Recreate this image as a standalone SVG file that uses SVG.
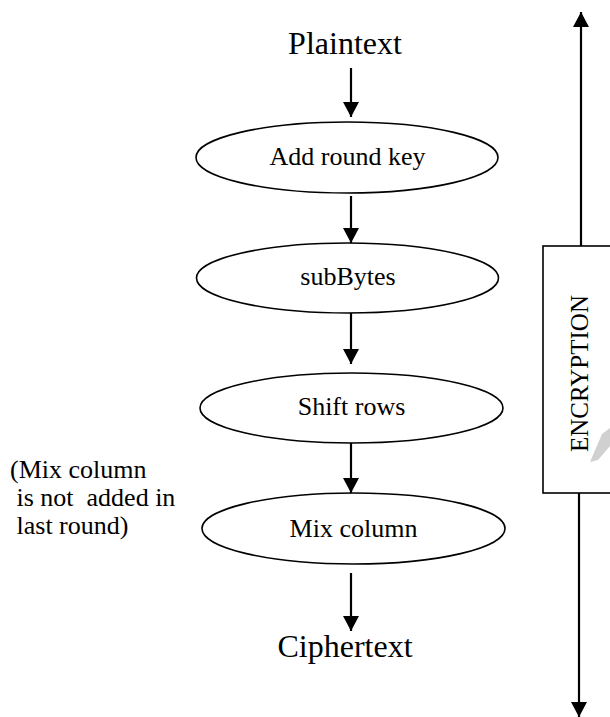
<svg xmlns="http://www.w3.org/2000/svg" width="610" height="717" viewBox="0 0 610 717">
<style>
text{font-family:"Liberation Serif","Times New Roman",serif;fill:#000}
.big{font-size:32px}
.lbl{font-size:26px}
.node ellipse{fill:#fff;stroke:#000;stroke-width:1.6}
.conn line{stroke:#000;stroke-width:2.2;fill:none}
.box{fill:#fff;stroke:#000;stroke-width:1.6}
</style>
<defs>
<marker id="ah" markerUnits="userSpaceOnUse" markerWidth="16" markerHeight="16" viewBox="0 0 16 16" refX="15" refY="8" orient="auto">
<path d="M0,0 L15,8 L0,16 Z" fill="#000"/>
</marker>
</defs>
<rect width="610" height="717" fill="#fff"/>
<g id="plaintext"><text class="big" x="345" y="54" text-anchor="middle">Plaintext</text></g>
<g id="addroundkey" class="node"><ellipse cx="347" cy="157.5" rx="151" ry="35.5"/><text class="lbl" x="347.5" y="165" text-anchor="middle">Add round key</text></g>
<g id="subbytes" class="node"><ellipse cx="347.5" cy="278" rx="151" ry="35"/><text class="lbl" x="348" y="285" text-anchor="middle">subBytes</text></g>
<g id="shiftrows" class="node"><ellipse cx="351.5" cy="408" rx="151.5" ry="35"/><text class="lbl" x="351.5" y="415" text-anchor="middle">Shift rows</text></g>
<g id="mixcolumn" class="node"><ellipse cx="353.5" cy="528.5" rx="151.5" ry="35.5"/><text class="lbl" x="353.5" y="537" text-anchor="middle">Mix column</text></g>
<g id="ciphertext"><text class="big" x="345" y="657" text-anchor="middle">Ciphertext</text></g>
<g id="note"><text class="lbl" xml:space="preserve"><tspan x="10" y="478">(Mix column</tspan><tspan x="10" y="506"> is not  added in</tspan><tspan x="10" y="534"> last round)</tspan></text></g>
<g id="encryption">
<rect class="box" x="543" y="246" width="80" height="247"/>
<text class="lbl" transform="translate(588,373.5) rotate(-90)" text-anchor="middle" style="font-size:25px">ENCRYPTION</text>
<polygon points="590,462 602,434 610,428 610,446 598,460" fill="#d0d0d0"/>
</g>
<g id="connectors" class="conn">
<line x1="351" y1="68" x2="351" y2="117" marker-end="url(#ah)"/>
<line x1="351" y1="196" x2="351" y2="243" marker-end="url(#ah)"/>
<line x1="351" y1="313" x2="351" y2="364" marker-end="url(#ah)"/>
<line x1="351" y1="443" x2="351" y2="493" marker-end="url(#ah)"/>
<line x1="351" y1="573" x2="351" y2="631" marker-end="url(#ah)"/>
<line x1="581" y1="246" x2="581" y2="12" marker-end="url(#ah)"/>
<line x1="579" y1="493" x2="579" y2="717" marker-end="url(#ah)"/>
</g>
</svg>
